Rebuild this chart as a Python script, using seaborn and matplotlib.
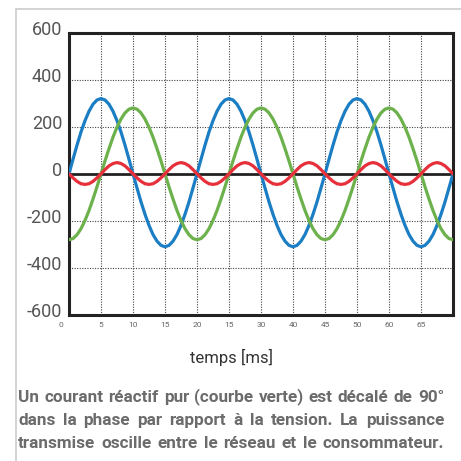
import pandas as pd
import seaborn as sns
import matplotlib.pyplot as plt
from matplotlib.lines import Line2D
from matplotlib.transforms import ScaledTranslation

# time axis in ms (one sample every 0.625 ms)
t_ms = [0, 0.625, 1.25, 1.875, 2.5, 3.125, 3.75, 4.375, 5, 5.625, 6.25, 6.875, 7.5, 8.125, 8.75, 9.375,
        10, 10.625, 11.25, 11.875, 12.5, 13.125, 13.75, 14.375, 15, 15.625, 16.25, 16.875, 17.5, 18.125, 18.75, 19.375,
        20, 20.625, 21.25, 21.875, 22.5, 23.125, 23.75, 24.375, 25, 25.625, 26.25, 26.875, 27.5, 28.125, 28.75, 29.375,
        30, 30.625, 31.25, 31.875, 32.5, 33.125, 33.75, 34.375, 35, 35.625, 36.25, 36.875, 37.5, 38.125, 38.75, 39.375,
        40, 40.625, 41.25, 41.875, 42.5, 43.125, 43.75, 44.375, 45, 45.625, 46.25, 46.875, 47.5, 48.125, 48.75, 49.375,
        50, 50.625, 51.25, 51.875, 52.5, 53.125, 53.75, 54.375, 55, 55.625, 56.25, 56.875, 57.5, 58.125, 58.75, 59.375,
        60]

# tension (blue)
tension = [0, 62, 122, 178, 226, 266, 296, 314, 320, 314, 296, 266, 226, 178, 122, 62,
           0, -60, -119, -172, -219, -258, -286, -304, -310, -304, -286, -258, -219, -172, -119, -60,
           0, 62, 122, 178, 226, 266, 296, 314, 320, 314, 296, 266, 226, 178, 122, 62,
           0, -60, -119, -172, -219, -258, -286, -304, -310, -304, -286, -258, -219, -172, -119, -60,
           0, 62, 122, 178, 226, 266, 296, 314, 320, 314, 296, 266, 226, 178, 122, 62,
           0, -60, -119, -172, -219, -258, -286, -304, -310, -304, -286, -258, -219, -172, -119, -60,
           0]

# courant reactif (green)
courant = [-280, -275, -259, -233, -198, -156, -107, -55, 0, 55, 107, 156, 198, 233, 259, 275,
           280, 275, 259, 233, 198, 156, 107, 55, 0, -55, -107, -156, -198, -233, -259, -275,
           -280, -275, -259, -233, -198, -156, -107, -55, 0, 55, 107, 156, 198, 233, 259, 275,
           280, 275, 259, 233, 198, 156, 107, 55, 0, -55, -107, -156, -198, -233, -259, -275,
           -280, -275, -259, -233, -198, -156, -107, -55, 0, 55, 107, 156, 198, 233, 259, 275,
           280, 275, 259, 233, 198, 156, 107, 55, 0, -55, -107, -156, -198, -233, -259, -275,
           -280]

# puissance (red)
puissance = [0, -17, -32, -42, -45, -42, -32, -17, 0, 18, 34, 44, 48, 44, 34, 18,
             0, -17, -32, -42, -45, -42, -32, -17, 0, 18, 34, 44, 48, 44, 34, 18,
             0, -17, -32, -42, -45, -42, -32, -17, 0, 18, 34, 44, 48, 44, 34, 18,
             0, -17, -32, -42, -45, -42, -32, -17, 0, 18, 34, 44, 48, 44, 34, 18,
             0, -17, -32, -42, -45, -42, -32, -17, 0, 18, 34, 44, 48, 44, 34, 18,
             0, -17, -32, -42, -45, -42, -32, -17, 0, 18, 34, 44, 48, 44, 34, 18,
             0]

x_ticks = [0, 5, 10, 15, 20, 25, 30, 35, 40, 45, 50, 55]
x_labels = ["0", "5", "10", "15", "20", "15", "30", "40", "45", "50", "60", "65"]
y_ticks = [600, 400, 200, 0, -200, -400, -600]
y_labels = ["600", "400", "200", "0", "-200", "-400", "-600"]

caption = ["Un courant réactif pur (courbe verte) est décalé de 90°",
           "dans la phase par rapport à la tension. La puissance",
           "transmise oscille entre le réseau et le consommateur."]

n = len(t_ms)
df = pd.DataFrame({"t": t_ms * 3,
                   "val": tension + courant + puissance,
                   "serie": ["tension"] * n + ["courant"] * n + ["puissance"] * n})
colors = {"tension": "#1b7dc3", "courant": "#6cb14b", "puissance": "#e6303c"}

sns.set_style("white")
plt.rcParams["font.family"] = ["Roboto", "DejaVu Sans"]

W = 461
fig = plt.figure(figsize=(4.61, 4.61), dpi=100)
ax = fig.add_axes([69 / W, 1 - 315 / W, (453 - 69) / W, (315 - 32.7) / W])

ax.axhline(0, color="#222222", lw=2, zorder=1)
sns.lineplot(data=df, x="t", y="val", hue="serie", palette=colors, lw=2.3,
             estimator=None, sort=False, legend=False, ax=ax, zorder=3)

ax.set_xlim(0, 60)
ax.set_ylim(-600, 600)
ax.set_xticks(x_ticks)
ax.set_xticklabels(x_labels, fontsize=6, color="#666666")
ax.set_yticks(y_ticks)
ax.set_yticklabels(y_labels, fontsize=13, color="#555555")
ax.tick_params(axis="both", length=0)
ax.tick_params(axis="x", pad=5)
ax.tick_params(axis="y", pad=5)
ax.set_xlabel("")
ax.set_ylabel("")
lab0 = ax.get_xticklabels()[0]
lab0.set_transform(lab0.get_transform() + ScaledTranslation(-0.08, 0, fig.dpi_scale_trans))
for lab in ax.get_yticklabels():
    lab.set_transform(lab.get_transform() + ScaledTranslation(0, 0.05, fig.dpi_scale_trans))

for xv in x_ticks[1:]:
    ax.axvline(xv, color="#444444", lw=0.8, ls=(0, (1, 1.3)), zorder=0)
for yv in [400, 200, -200, -400]:
    ax.axhline(yv, color="#444444", lw=0.8, ls=(0, (1, 1.3)), zorder=0)

for sp in ax.spines.values():
    sp.set_visible(True)
    sp.set_linewidth(2.2)
    sp.set_color("#222222")

# outer frame (light grey)
fig.add_artist(Line2D([16 / W, 16 / W], [0, 1 - 9 / W], color="#cccccc", lw=1.2))
fig.add_artist(Line2D([16 / W, 1], [1 - 9 / W, 1 - 9 / W], color="#cccccc", lw=1.2))

fig.text(231 / W, 1 - 357 / W, "temps [ms]", fontsize=12, color="#333333",
         ha="center", va="center")

# justified caption
renderer = fig.canvas.get_renderer()
left, right = 18, 444
for i, line in enumerate(caption):
    y = 1 - (397 + 23 * i) / W
    words = line.split(" ")
    txts = [fig.text(0, y, w, fontsize=12.3, fontweight="bold", color="#6b6b6b", va="center")
            for w in words]
    widths = [t.get_window_extent(renderer).width for t in txts]
    gap = (right - left - sum(widths)) / (len(words) - 1)
    x = left
    for t, w in zip(txts, widths):
        t.set_x(x / W)
        x += w + gap

plt.savefig("out.png", dpi=100)
plt.close()
